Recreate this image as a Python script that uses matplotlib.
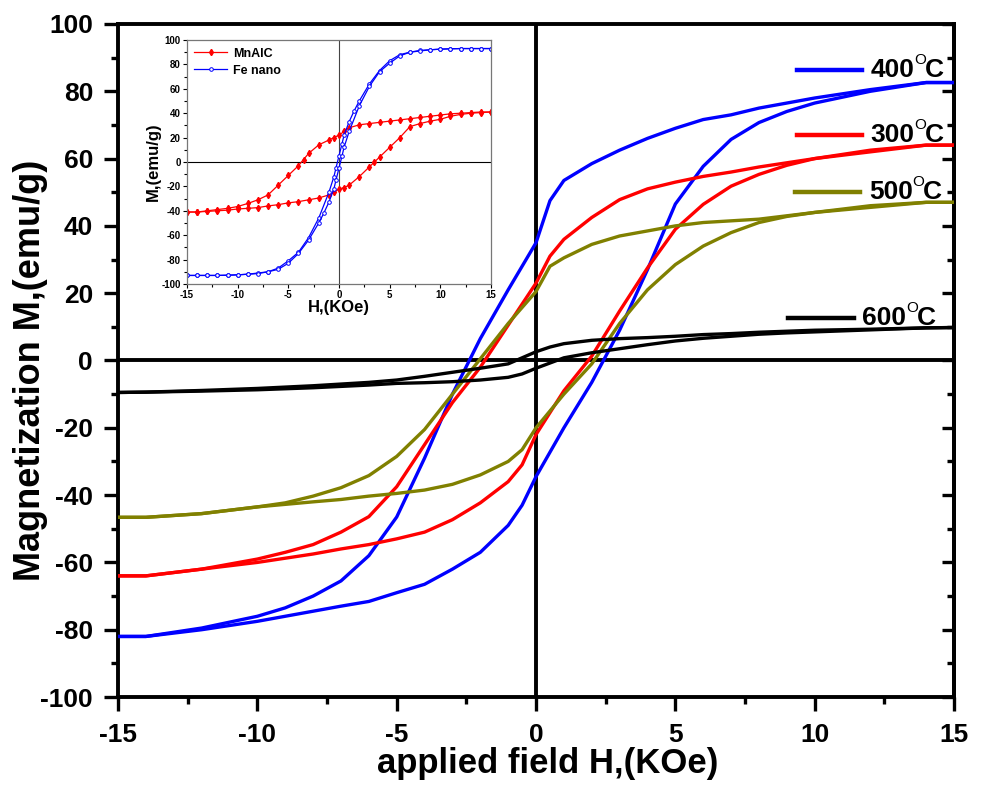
import numpy as np
import matplotlib.pyplot as plt
from matplotlib.ticker import MultipleLocator
from matplotlib.lines import Line2D

plt.rcParams['font.family'] = ['Liberation Sans', 'DejaVu Sans']
plt.rcParams['font.weight'] = 'bold'
plt.rcParams['axes.unicode_minus'] = False

# hysteresis loops, descending branch (+15 -> -15) and ascending branch (-15 -> +15)
h_desc = [15, 14, 12, 10, 8, 7, 6, 5, 4, 3, 2, 1, 0.5, 0, -1, -2, -3, -4, -5, -6, -7, -8, -9, -10, -12, -14, -15]
h_asc = [-15, -14, -12, -10, -8, -7, -6, -5, -4, -3, -2, -1, -0.5, 0, 1, 2, 3, 4, 5, 6, 7, 8, 9, 10, 12, 14, 15]

m400_desc = [82.6, 82.6, 80.5, 78, 75, 73, 71.6, 69, 66, 62.5, 58.5, 53.5, 47.5, 35, 21, 6.5, -10, -29, -46.5, -58, -65.5, -70, -73.5, -76, -79.5, -82, -82]
m400_asc = [-82, -82, -80, -77.5, -74.5, -73, -71.6, -69, -66.5, -62, -57, -49, -43, -34.5, -20, -6.5, 9, 27, 46.5, 57.7, 65.7, 70.7, 74, 76.5, 80, 82.6, 82.6]

m300_desc = [64, 64, 62, 60, 57.5, 56, 54.7, 53, 51, 47.8, 42.5, 36, 31, 23, 10.5, -2, -12.5, -25, -37.5, -46.4, -51, -54.7, -57, -59, -62, -64, -64]
m300_asc = [-64, -64, -62, -60, -57.5, -56, -54.7, -53, -51, -47.3, -42.3, -36, -31, -22, -9, 1.3, 14.7, 27.5, 39, 46.4, 51.8, 55.3, 58, 60, 62.5, 64, 64]

m500_desc = [47, 47, 46, 44, 42, 41.5, 41, 40, 38.5, 37, 34.5, 30.5, 28, 20.5, 11, 0.5, -10, -20.5, -28.5, -34.2, -37.8, -40.3, -42.3, -43.5, -45.5, -46.6, -46.6]
m500_asc = [-46.6, -46.6, -45.5, -43.5, -42, -41.3, -40.3, -39.5, -38.5, -36.8, -34, -30, -26.5, -20, -10, -1, 11, 21, 28.5, 34, 38, 41, 42.8, 44, 45.5, 47, 47]

m600_desc = [9.8, 9.7, 9.3, 9, 8.4, 8, 7.7, 7.2, 6.8, 6.5, 6, 5, 4, 2.6, -1, -2.3, -3.5, -4.7, -5.8, -6.5, -7, -7.5, -7.9, -8.3, -8.9, -9.4, -9.5]
m600_asc = [-9.5, -9.4, -9.1, -8.7, -8.1, -7.7, -7.3, -6.8, -6.6, -6.3, -5.8, -5, -4, -2.3, 0.8, 2.3, 3.5, 4.7, 5.8, 6.6, 7.2, 7.8, 8.2, 8.5, 9.1, 9.7, 9.8]

loops = [
    ('400', m400_desc, m400_asc, '#0000ff'),
    ('300', m300_desc, m300_asc, '#ff0000'),
    ('500', m500_desc, m500_asc, '#808000'),
    ('600', m600_desc, m600_asc, '#000000'),
]

# inset: MnAlC and Fe nanoparticles
h_mn_desc = [15, 14, 13, 12, 11, 10, 9, 8, 7, 6, 5, 4, 3, 2, 1, 0.5, 0, -0.5, -1, -2, -3, -3.5, -4, -5, -6, -7, -8, -9, -10, -11, -12, -13, -14, -15]
m_mn_desc = [41, 41, 40.5, 40, 39.5, 38.5, 37.5, 36.5, 35.5, 34.5, 33.5, 32.5, 31.5, 30.5, 28, 25, 22, 20, 18, 14, 7, 2, -3, -11, -19, -27, -31, -34, -36.5, -38, -39, -40, -41, -41]
h_mn_asc = [-15, -14, -13, -12, -11, -10, -9, -8, -7, -6, -5, -4, -3, -2, -1, -0.5, 0, 0.5, 1, 2, 3, 3.5, 4, 5, 6, 7, 8, 9, 10, 11, 12, 13, 14, 15]
m_mn_asc = [-41, -41, -40.5, -40, -39.5, -38.5, -38, -37.4, -36, -35, -33.5, -32.5, -31, -29.5, -27, -25, -22, -21, -19, -12, -4, 0, 4, 12, 20, 29, 31.5, 33.5, 35, 37.5, 39, 40, 40.5, 41]

h_fe_desc = [15, 14, 13, 12, 11, 10, 9, 8, 7, 6, 5, 4, 3, 2, 1.5, 1, 0.5, 0.3, 0, -0.3, -0.5, -1, -2, -3, -4, -5, -6, -7, -8, -9, -10, -11, -12, -13, -14, -15]
m_fe_desc = [93, 93, 93, 93, 92.8, 92.5, 92, 91.5, 90, 88, 83, 75, 64, 50, 42, 33, 22, 15, 5, -5, -12, -25, -46, -62, -74, -81, -87, -90, -91, -92, -92.5, -92.8, -93, -93, -93, -93]
h_fe_asc = [-15, -14, -13, -12, -11, -10, -9, -8, -7, -6, -5, -4, -3, -2, -1.5, -1, -0.5, -0.3, 0, 0.3, 0.5, 1, 2, 3, 4, 5, 6, 7, 8, 9, 10, 11, 12, 13, 14, 15]
m_fe_asc = [-93, -93, -93, -93, -92.8, -92.5, -92, -91.5, -90, -88, -83, -75, -64, -50, -42, -33, -22, -15, -5, 5, 12, 25, 46, 62, 74, 81, 87, 90, 91, 92, 92.5, 92.8, 93, 93, 93, 93]

fig = plt.figure(figsize=(9.84, 7.86), dpi=100)
ax = fig.add_axes([0.120, 0.1132, 0.8495, 0.8563])

ax.axhline(0, color='black', lw=2.8, zorder=1)
ax.axvline(0, color='black', lw=2.8, zorder=1)

for name, md, ma, col in loops:
    ax.plot(h_desc, md, color=col, lw=2.4, zorder=3)
    ax.plot(h_asc, ma, color=col, lw=2.4, zorder=3)

ax.set_xlim(-15, 15)
ax.set_ylim(-100, 100)
ax.xaxis.set_major_locator(MultipleLocator(5))
ax.xaxis.set_minor_locator(MultipleLocator(2.5))
ax.yaxis.set_major_locator(MultipleLocator(20))
ax.yaxis.set_minor_locator(MultipleLocator(10))
for s in ax.spines.values():
    s.set_linewidth(2.8)
ax.tick_params(which='major', direction='out', length=10, width=2.4, labelsize=19)
ax.tick_params(which='minor', direction='out', length=5, width=2.4)
ax.tick_params(axis='y', which='major', pad=8)
ax.tick_params(axis='x', which='major', pad=9)
# inward ticks along the right spine
ax_r = ax.secondary_yaxis('right')
ax_r.yaxis.set_major_locator(MultipleLocator(20))
ax_r.yaxis.set_minor_locator(MultipleLocator(10))
ax_r.tick_params(which='major', direction='in', length=9, width=2.4, labelright=False)
ax_r.tick_params(which='minor', direction='in', length=5, width=2.4)
ax_r.spines['right'].set_linewidth(2.8)

for lab in ax.get_xticklabels() + ax.get_yticklabels():
    lab.set_fontweight('bold')

ax.set_xlabel('applied field H,(KOe)', fontsize=25, fontweight='bold')
ax.set_ylabel('Magnetization M,(emu/g)', fontsize=26, fontweight='bold')
ax.xaxis.set_label_coords(0.514, -0.074)
ax.yaxis.set_label_coords(-0.084, 0.486)

# temperature keys: number, small raised "O", then "C"
key_rows = [('400', 0.9316, 0.812), ('300', 0.835, 0.812), ('500', 0.750, 0.810), ('600', 0.563, 0.802)]
colors = {name: col for name, _, _, col in loops}
for name, ky, kx in key_rows:
    ax.add_line(Line2D([kx, kx + 0.078], [ky, ky], transform=ax.transAxes,
                       color=colors[name], lw=3.2, zorder=4))
    t_num = ax.text(kx + 0.088, ky, name, transform=ax.transAxes,
                    fontsize=19, fontweight='bold', va='center', ha='left')
    t_deg = ax.annotate('O', xy=(1.0, 0.62), xycoords=t_num, fontsize=11,
                        fontweight='normal', va='bottom', ha='left')
    ax.annotate('C', xy=(0.9, 0.0), xycoords=(t_deg, t_num), fontsize=19,
                fontweight='bold', va='bottom', ha='left')

# inset
ins = fig.add_axes([0.190, 0.6387, 0.309, 0.3104])
ins.set_facecolor('white')
ins.axhline(0, color='black', lw=0.8)
ins.axvline(0, color='#444444', lw=0.8)
ins.plot(h_mn_desc, m_mn_desc, color='#ff0000', lw=0.9, marker='d', ms=3.2, label='MnAlC')
ins.plot(h_mn_asc, m_mn_asc, color='#ff0000', lw=0.9, marker='d', ms=3.2)
ins.plot(h_fe_desc, m_fe_desc, color='#0000ff', lw=0.9, marker='o', ms=2.6,
         mfc='white', mew=0.7, label='Fe nano')
ins.plot(h_fe_asc, m_fe_asc, color='#0000ff', lw=0.9, marker='o', ms=2.6, mfc='white', mew=0.7)
ins.set_xlim(-15, 15)
ins.set_ylim(-100, 100)
ins.xaxis.set_major_locator(MultipleLocator(5))
ins.xaxis.set_minor_locator(MultipleLocator(2.5))
ins.yaxis.set_major_locator(MultipleLocator(20))
ins.yaxis.set_minor_locator(MultipleLocator(10))
ins.tick_params(which='major', direction='out', length=3, width=0.8, labelsize=7, pad=1.5)
ins.tick_params(which='minor', direction='out', length=2, width=0.8)
for lab in ins.get_xticklabels() + ins.get_yticklabels():
    lab.set_fontweight('bold')
for s in ins.spines.values():
    s.set_color('#777777')
    s.set_linewidth(0.9)
ins.set_xlabel('H,(KOe)', fontsize=12, fontweight='bold', labelpad=0)
ins.set_ylabel('M,(emu/g)', fontsize=12, fontweight='bold', labelpad=0)
ins.legend(loc='upper left', frameon=False, prop={'size': 9, 'weight': 'bold'},
           handlelength=2.6, borderaxespad=0.2, labelspacing=0.4, handletextpad=0.5)

fig.savefig('out.png', dpi=100)
